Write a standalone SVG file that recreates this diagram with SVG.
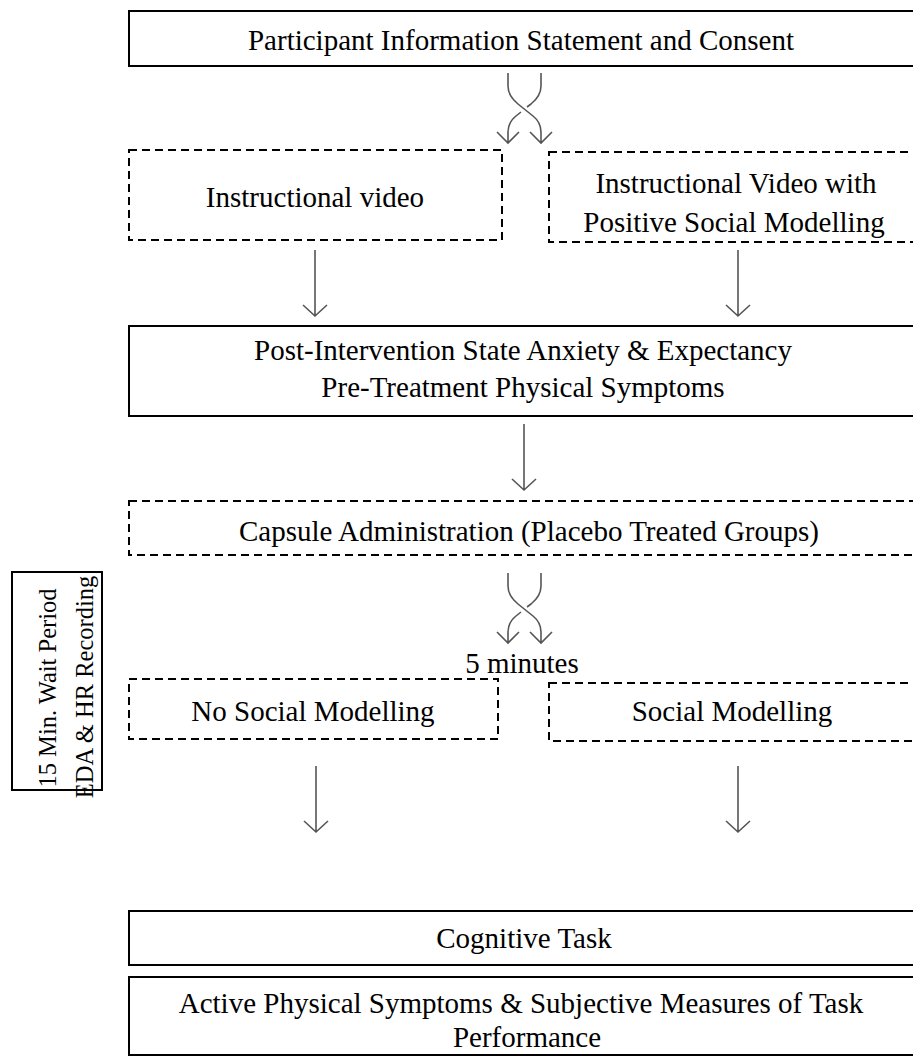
<svg xmlns="http://www.w3.org/2000/svg" width="913" height="1059" viewBox="0 0 913 1059">
<style>
.box{fill:none;stroke:#000;stroke-width:2}
.dash{fill:none;stroke:#000;stroke-width:2;stroke-dasharray:8,5}
.t{font-family:"Liberation Serif","Times New Roman",serif;font-size:29px;fill:#000;text-anchor:middle}
.r{font-size:24.5px}
.ar{fill:none;stroke:#555;stroke-width:1.6}
</style>
<defs>
<g id="cross">
<path class="ar" d="M508,73 V86 C508,95 513,100 518,104 L533,116 C538,120 541,125 541,132 V143 M530,132 L541,143 L552,132"/>
<path class="ar" d="M541,73 V86 C541,95 536,100 531,104 L527,107 M521,112 L516,116 C511,120 508,125 508,132 V143 M497,132 L508,143 L519,132"/>
</g>
<g id="down">
<path class="ar" d="M0,0 V66 M-12,55 L0,66 L12,55"/>
</g>
</defs>
<g id="n1"><rect class="box" x="129" y="11" width="800" height="55"/><text class="t" x="521" y="50">Participant Information Statement and Consent</text></g>
<g id="n2"><rect class="dash" x="129" y="150" width="373" height="90"/><text class="t" x="315" y="207">Instructional video</text></g>
<g id="n3"><rect class="dash" x="549" y="152" width="380" height="90"/><text class="t" x="736" y="193">Instructional Video with</text><text class="t" x="734" y="232">Positive Social Modelling</text></g>
<g id="n4"><rect class="box" x="129" y="326" width="800" height="90"/><text class="t" x="523" y="360">Post-Intervention State Anxiety &amp; Expectancy</text><text class="t" x="523" y="397">Pre-Treatment Physical Symptoms</text></g>
<g id="n5"><rect class="dash" x="129" y="501" width="800" height="54"/><text class="t" x="529" y="541">Capsule Administration (Placebo Treated Groups)</text></g>
<g id="n6"><rect class="box" x="12" y="572" width="90" height="218"/><text class="t r" transform="translate(56,688) rotate(-90)">15 Min. Wait Period</text><text class="t r" transform="translate(93,687) rotate(-90)">EDA &amp; HR Recording</text></g>
<g id="n7"><rect class="dash" x="129" y="679" width="369" height="60"/><text class="t" x="313" y="721">No Social Modelling</text></g>
<g id="n8"><rect class="dash" x="549" y="683" width="380" height="58"/><text class="t" x="732" y="721">Social Modelling</text></g>
<g id="n9"><rect class="box" x="129" y="911" width="800" height="54"/><text class="t" x="524" y="948">Cognitive Task</text></g>
<g id="n10"><rect class="box" x="129" y="977" width="800" height="78"/><text class="t" x="521" y="1013">Active Physical Symptoms &amp; Subjective Measures of Task</text><text class="t" x="527" y="1047">Performance</text></g>
<g id="connectors">
<use href="#cross"/>
<use href="#cross" transform="translate(0,500)"/>
<text class="t" x="522" y="673">5 minutes</text>
<use href="#down" x="315" y="250"/>
<use href="#down" x="738" y="250"/>
<use href="#down" x="524" y="424"/>
<use href="#down" x="316" y="766"/>
<use href="#down" x="738" y="766"/>
</g>
</svg>
